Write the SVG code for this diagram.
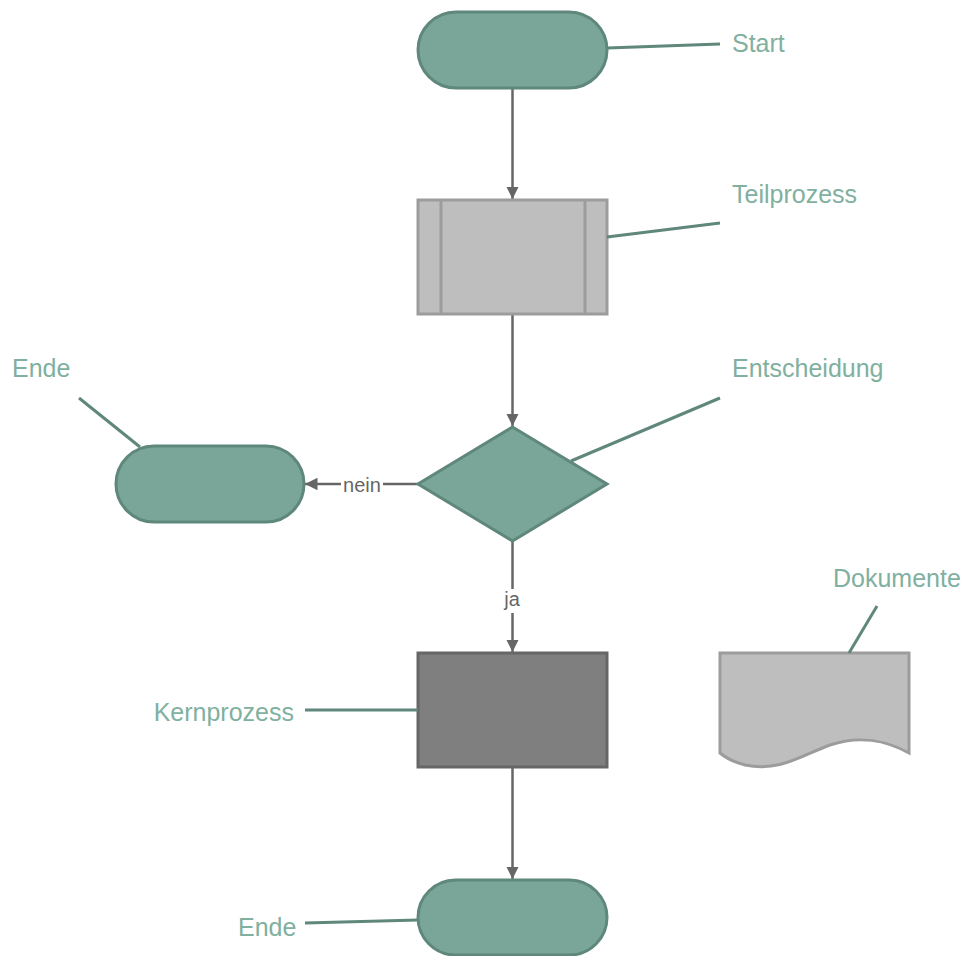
<svg xmlns="http://www.w3.org/2000/svg" width="968" height="956" viewBox="0 0 968 956">
<defs>
<marker id="arr" viewBox="0 0 10 10" refX="10" refY="5" markerWidth="5" markerHeight="5" orient="auto" markerUnits="strokeWidth">
<path d="M0,0 L10,5 L0,10 z" fill="#666666"/>
</marker>
<style>
.term{fill:#7aa69a;stroke:#5f877c;stroke-width:3}
.sub{fill:#bebebe;stroke:#9c9c9c;stroke-width:3}
.core{fill:#7f7f7f;stroke:#666666;stroke-width:3}
.doc{fill:#bebebe;stroke:#9c9c9c;stroke-width:3}
.lead{stroke:#5f877c;stroke-width:3;fill:none}
.lbl{font-family:"Liberation Sans","Open Sans",sans-serif;font-size:25px;fill:#7fb0a0}
.conn{stroke:#666666;stroke-width:2.5;fill:none;marker-end:url(#arr)}
.cl{font-family:"Liberation Sans",sans-serif;font-size:20px;fill:#666666}
</style>
</defs>
<g id="connectors">
<line class="conn" x1="512.5" y1="88" x2="512.5" y2="199"/>
<line class="conn" x1="512.5" y1="314" x2="512.5" y2="426"/>
<line class="conn" x1="418" y1="484" x2="305" y2="484"/>
<rect x="341" y="474" width="42" height="22" fill="#ffffff"/>
<text class="cl" x="362" y="492" text-anchor="middle">nein</text>
<line class="conn" x1="512.5" y1="541" x2="512.5" y2="652"/>
<rect x="502" y="589" width="21" height="24" fill="#ffffff"/>
<text class="cl" x="512" y="606" text-anchor="middle">ja</text>
<line class="conn" x1="512.5" y1="767" x2="512.5" y2="879"/>
</g>
<g id="start">
<rect class="term" x="418" y="12" width="189" height="76" rx="38" ry="38"/>
<line class="lead" x1="607" y1="48" x2="720" y2="44"/>
<text class="lbl" x="732" y="52">Start</text>
</g>
<g id="teilprozess">
<rect class="sub" x="418" y="200" width="189" height="114"/>
<line x1="441" y1="200" x2="441" y2="314" stroke="#9c9c9c" stroke-width="3"/>
<line x1="585" y1="200" x2="585" y2="314" stroke="#9c9c9c" stroke-width="3"/>
<line class="lead" x1="607" y1="237" x2="720" y2="223"/>
<text class="lbl" x="732" y="203">Teilprozess</text>
</g>
<g id="entscheidung">
<polygon class="term" points="512.5,427 607,484 512.5,541 418,484"/>
<line class="lead" x1="571" y1="461" x2="720" y2="398"/>
<text class="lbl" x="732" y="377">Entscheidung</text>
</g>
<g id="ende1">
<rect class="term" x="116" y="446" width="188" height="76" rx="38" ry="38"/>
<line class="lead" x1="140" y1="447" x2="79" y2="398"/>
<text class="lbl" x="12" y="377">Ende</text>
</g>
<g id="kernprozess">
<rect class="core" x="418" y="653" width="189" height="114"/>
<line class="lead" x1="305" y1="710" x2="418" y2="710"/>
<text class="lbl" x="294" y="721" text-anchor="end">Kernprozess</text>
</g>
<g id="dokumente">
<path class="doc" d="M720,653 H909 V753 C885,740 860,735 830,745 C800,756 780,772 745,765 C733,762 726,758 720,753 Z"/>
<line class="lead" x1="849" y1="653" x2="877" y2="606"/>
<text class="lbl" x="833" y="587">Dokumente</text>
</g>
<g id="ende2">
<rect class="term" x="418" y="880" width="189" height="75" rx="37.5" ry="37.5"/>
<line class="lead" x1="305" y1="923" x2="418" y2="920"/>
<text class="lbl" x="238" y="936">Ende</text>
</g>
</svg>
